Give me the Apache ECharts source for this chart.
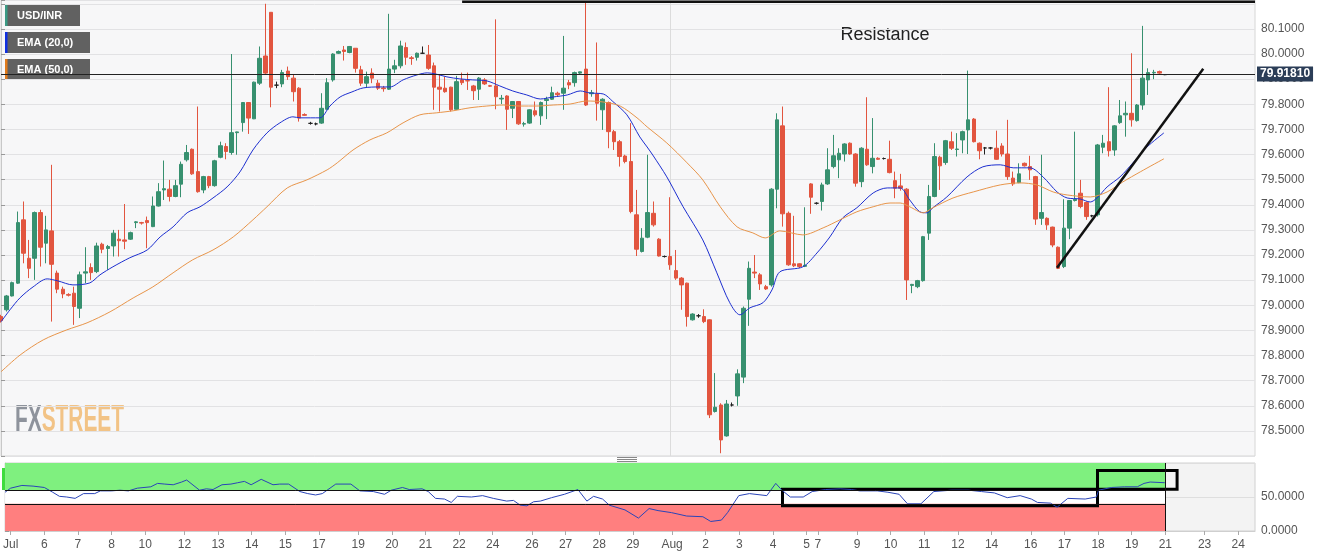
<!DOCTYPE html>
<html><head><meta charset="utf-8">
<script src="https://cdn.jsdelivr.net/npm/echarts@6/dist/echarts.min.js"></script>
<style>html,body{margin:0;padding:0;background:#fff}#c{width:1331px;height:558px}</style>
</head><body><div id="c"></div>
<script>
// ---- data (4h candles, USD/INR) ----
const opens=[78.955,78.982,79.037,79.088,79.340,79.187,79.187,79.369,79.247,79.296,79.128,79.064,79.043,79.048,78.988,79.128,79.150,79.134,79.243,79.226,79.236,79.263,79.260,79.263,79.329,79.329,79.337,79.313,79.395,79.459,79.462,79.433,79.482,79.579,79.621,79.532,79.459,79.512,79.476,79.589,79.632,79.608,79.687,79.727,79.807,79.742,79.884,79.992,80.166,79.876,79.881,79.932,79.904,79.864,79.759,79.724,79.722,79.725,79.780,79.897,80.003,80.016,80.006,80.023,79.937,79.884,79.924,79.884,79.865,79.860,79.940,79.953,80.026,79.985,79.987,80.003,79.996,79.953,79.868,79.864,79.868,79.780,79.897,79.894,79.873,79.860,79.897,79.874,79.873,79.821,79.833,79.784,79.811,79.721,79.725,79.774,79.754,79.815,79.820,79.844,79.844,79.886,79.886,79.924,79.940,79.842,79.841,79.778,79.807,79.691,79.651,79.594,79.572,79.360,79.214,79.271,79.366,79.263,79.194,79.194,79.138,79.108,79.088,78.942,78.958,78.955,78.942,78.577,78.603,78.480,78.603,78.639,78.714,79.024,79.132,79.121,79.074,79.081,79.462,79.714,79.366,79.165,79.165,79.155,79.483,79.406,79.413,79.483,79.552,79.579,79.602,79.645,79.602,79.492,79.621,79.552,79.585,79.584,79.581,79.496,79.475,79.462,79.079,79.074,79.098,79.287,79.433,79.589,79.568,79.651,79.620,79.658,79.698,79.741,79.645,79.626,79.626,79.625,79.634,79.602,79.506,79.488,79.565,79.552,79.512,79.346,79.346,79.311,79.231,79.154,79.307,79.417,79.446,79.409,79.356,79.360,79.629,79.651,79.618,79.727,79.758,79.764,79.735,79.797,79.897,79.925,79.930,79.918];
const closes=[78.939,79.037,79.090,79.329,79.207,79.147,79.369,79.231,79.300,79.163,79.064,79.045,79.040,78.995,79.121,79.133,79.130,79.236,79.223,79.234,79.287,79.257,79.255,79.289,79.332,79.327,79.329,79.395,79.452,79.464,79.433,79.476,79.561,79.608,79.523,79.452,79.512,79.476,79.575,79.635,79.612,79.687,79.690,79.807,79.745,79.888,79.983,79.924,79.868,79.876,79.926,79.910,79.850,79.745,79.756,79.724,79.722,79.784,79.886,80.000,80.010,80.010,80.030,79.943,79.884,79.910,79.904,79.864,79.862,79.940,79.953,80.032,79.987,79.982,80.003,80.003,79.943,79.868,79.860,79.850,79.778,79.890,79.886,79.893,79.854,79.904,79.881,79.872,79.830,79.824,79.780,79.811,79.722,79.723,79.778,79.758,79.807,79.820,79.846,79.838,79.864,79.877,79.926,79.929,79.797,79.846,79.804,79.820,79.691,79.651,79.592,79.572,79.373,79.223,79.267,79.369,79.320,79.196,79.194,79.161,79.108,79.081,78.955,78.965,78.958,78.935,78.564,78.594,78.464,78.607,78.603,78.727,78.988,79.147,79.128,79.085,79.065,79.462,79.738,79.364,79.161,79.157,79.154,79.159,79.430,79.406,79.479,79.539,79.595,79.605,79.642,79.602,79.486,79.625,79.559,79.585,79.581,79.584,79.528,79.466,79.466,79.101,79.083,79.098,79.273,79.433,79.592,79.555,79.655,79.625,79.622,79.691,79.738,79.651,79.615,79.626,79.626,79.581,79.602,79.512,79.483,79.523,79.555,79.539,79.343,79.369,79.320,79.240,79.147,79.307,79.417,79.422,79.393,79.353,79.356,79.638,79.645,79.615,79.714,79.754,79.764,79.738,79.797,79.904,79.926,79.927,79.924,79.918];
const lows=[78.931,78.975,79.035,79.085,79.167,79.108,79.101,79.154,79.167,78.935,79.048,79.028,79.035,78.922,78.949,79.088,79.101,79.128,79.207,79.141,79.194,79.194,79.223,79.260,79.307,79.321,79.227,79.311,79.393,79.419,79.413,79.430,79.430,79.572,79.519,79.448,79.446,79.466,79.472,79.585,79.581,79.599,79.599,79.691,79.682,79.741,79.877,79.917,79.788,79.864,79.868,79.897,79.811,79.731,79.754,79.719,79.716,79.722,79.778,79.890,80.000,79.974,80.003,79.926,79.873,79.868,79.884,79.857,79.850,79.857,79.924,79.943,79.957,79.957,79.974,80.000,79.937,79.778,79.771,79.846,79.771,79.778,79.877,79.857,79.817,79.817,79.877,79.869,79.780,79.801,79.698,79.745,79.718,79.711,79.722,79.751,79.718,79.741,79.817,79.830,79.778,79.860,79.870,79.917,79.793,79.830,79.735,79.698,79.625,79.618,79.552,79.565,79.366,79.196,79.210,79.267,79.313,79.194,79.190,79.141,79.101,78.982,78.915,78.939,78.950,78.929,78.551,78.573,78.411,78.477,78.597,78.600,78.690,78.918,79.108,79.061,79.061,79.074,79.386,79.313,79.157,79.152,79.148,79.152,79.364,79.401,79.377,79.479,79.545,79.506,79.572,79.599,79.472,79.470,79.555,79.525,79.579,79.580,79.525,79.426,79.456,79.021,79.048,79.068,79.094,79.260,79.430,79.459,79.559,79.618,79.592,79.605,79.602,79.648,79.581,79.600,79.620,79.579,79.592,79.499,79.475,79.486,79.552,79.499,79.320,79.320,79.300,79.231,79.144,79.148,79.263,79.413,79.386,79.340,79.350,79.353,79.605,79.592,79.595,79.722,79.671,79.711,79.731,79.778,79.837,79.900,79.921,79.916];
const highs=[78.962,79.041,79.094,79.373,79.413,79.260,79.373,79.380,79.356,79.559,79.138,79.074,79.048,79.074,79.134,79.231,79.167,79.249,79.249,79.240,79.300,79.300,79.403,79.293,79.335,79.332,79.353,79.433,79.486,79.576,79.499,79.499,79.572,79.638,79.624,79.791,79.515,79.515,79.579,79.651,79.645,80.000,79.691,79.809,79.809,79.890,80.030,80.200,80.166,79.890,79.937,79.950,79.917,79.868,79.764,79.730,79.727,79.844,79.904,80.003,80.014,80.032,80.032,80.023,79.953,79.930,79.943,79.897,79.873,80.160,79.977,80.053,80.046,79.992,80.006,80.030,80.036,79.966,79.917,79.910,79.870,79.913,79.926,79.926,79.877,79.908,79.904,79.877,80.138,79.837,79.836,79.813,79.813,79.730,79.780,79.811,79.811,79.830,79.870,79.850,80.072,79.897,79.930,79.930,80.210,79.857,80.046,79.824,79.811,79.698,79.658,79.599,79.725,79.459,79.307,79.599,79.413,79.267,79.198,79.430,79.220,79.112,79.090,78.968,78.965,78.984,78.944,78.730,78.610,78.623,78.613,78.745,78.995,79.174,79.200,79.128,79.081,79.466,79.764,79.791,79.373,79.356,79.167,79.390,79.486,79.410,79.488,79.625,79.678,79.625,79.645,79.648,79.605,79.629,79.828,79.745,79.589,79.588,79.655,79.532,79.523,79.466,79.085,79.101,79.276,79.479,79.645,79.595,79.658,79.691,79.685,79.695,79.934,79.745,79.648,79.630,79.630,79.695,79.645,79.738,79.532,79.565,79.568,79.595,79.515,79.599,79.350,79.313,79.234,79.422,79.419,79.691,79.499,79.413,79.360,79.642,79.678,79.868,79.717,79.817,79.811,80.003,79.801,80.112,79.943,79.937,79.934,79.920];

// EMA lines: [candle index, value]
const ema20=[[0,78.934],[1.6,78.982],[3.4,79.030],[5.7,79.073],[8.2,79.105],[10.1,79.097],[12.8,79.081],[15.8,79.089],[17.6,79.121],[19.9,79.153],[22.9,79.189],[26,79.220],[28.3,79.272],[30.6,79.312],[33.1,79.368],[35.4,79.392],[37.7,79.427],[40.2,79.471],[42.5,79.531],[44.8,79.618],[47.3,79.686],[49.6,79.726],[51.9,79.750],[53.2,79.746],[56.7,79.746],[58.5,79.793],[60.3,79.829],[62.4,79.849],[64.4,79.865],[67.4,79.869],[69.2,79.869],[71.5,79.897],[74,79.917],[75.8,79.925],[77.2,79.921],[79.3,79.909],[81.6,79.901],[83.9,79.897],[86.4,79.893],[88.7,79.873],[91,79.853],[93.5,79.837],[95.9,79.821],[98.2,79.829],[100.7,79.837],[103,79.853],[104.7,79.845],[107.1,79.841],[108.8,79.811],[111.3,79.758],[113.6,79.670],[114.9,79.630],[115.9,79.598],[118.4,79.511],[121.3,79.392],[124.8,79.260],[127.3,79.129],[129.6,79.010],[131.4,78.962],[133.2,78.990],[135.5,79.010],[137.1,79.061],[138.5,79.133],[142.6,79.153],[145.1,79.208],[147.4,79.272],[149.7,79.348],[152.2,79.388],[155.1,79.447],[157.6,79.467],[159.9,79.467],[161.6,79.419],[163.4,79.372],[164.7,79.368],[165.7,79.388],[168.2,79.431],[171.8,79.511],[174.6,79.551],[177.7,79.559],[180,79.547],[183,79.547],[185.3,79.511],[187.8,79.451],[189.6,79.427],[191.9,79.423],[193.7,79.411],[194.9,79.427],[196.7,79.471],[199,79.511],[201.3,79.567],[203.8,79.630],[206.8,79.686]];
const ema50=[[0,78.735],[3.4,78.802],[7.5,78.862],[11.7,78.902],[15.3,78.930],[19.4,78.974],[23.5,79.029],[27,79.073],[30.6,79.129],[34.1,79.181],[37.7,79.220],[41.3,79.272],[44.8,79.340],[47.3,79.392],[50.9,79.467],[54.4,79.499],[58,79.539],[59.8,79.567],[62.6,79.618],[65.6,79.658],[68.6,79.686],[71.5,79.726],[74.5,79.758],[77.5,79.766],[80.4,79.774],[83.4,79.786],[86.4,79.793],[89.3,79.797],[92.3,79.793],[95.3,79.793],[98.2,79.797],[101.2,79.801],[104.2,79.813],[107.1,79.809],[110.1,79.793],[113.1,79.746],[114.9,79.710],[118.4,79.646],[122,79.567],[124.8,79.499],[127.9,79.392],[130.9,79.312],[133.7,79.288],[135.9,79.268],[138.5,79.296],[142.6,79.280],[146.2,79.308],[149.2,79.340],[152.2,79.372],[155.1,79.392],[158.1,79.407],[159.9,79.407],[161.6,79.392],[164,79.368],[165.7,79.388],[169.3,79.427],[172.9,79.451],[177.7,79.479],[181.2,79.487],[184.2,79.479],[187.1,79.451],[189.6,79.439],[193.7,79.431],[196.7,79.451],[199.5,79.491],[202.6,79.531],[206.8,79.583]];
// RSI(14): [candle index, value]
const rsiPoints=[[0,57],[1,63],[3,67],[5,66],[7,64],[8.5,57],[9.7,51],[11,50],[12.5,48],[14,55],[16,55],[17,59],[19,59],[20.5,60],[22,59],[23.6,63],[26,65],[27.2,70],[28.5,69],[30,68],[31.5,72],[32.4,75],[34.7,60],[35.9,62],[37.1,61],[38.7,68],[40.3,69],[41.5,71],[42.7,73],[43.9,68],[45.7,76],[47.8,68],[49,69],[50.6,69],[52.6,58],[54,55],[55.4,53],[56.6,55],[59,69],[61.7,69],[63.3,59],[65.7,58],[67.7,54],[68.9,60],[70.9,64],[72.1,61],[74.4,62],[75.5,58],[76.8,48],[78.4,47],[79.6,42],[80.7,51],[83.2,50],[85.2,52],[87.1,48],[89.5,44],[90.7,45],[91.9,38],[93.1,37],[94.3,43],[95.5,44],[97.5,49],[99.8,54],[102.2,61],[103.8,44],[105,51],[106.6,47],[107.8,38],[110.6,31],[113,19],[114.9,33],[116.5,30],[118.9,27],[121.6,22],[124.5,21],[125.9,14],[127.8,16],[128.9,27],[130.9,52],[132.8,55],[135.9,52],[137.5,70],[138.6,60],[140.1,50],[142.4,50],[144,58],[146.4,61],[149,62],[151,61],[152.5,59],[155.6,59],[157.5,57],[159.5,54],[161,40],[163.4,40],[165.7,58],[168.8,60],[171.9,60],[174.2,58],[176.5,56],[178.8,49],[181.1,52],[183.1,47],[184.2,42],[186.5,41],[187.7,35],[189.6,48],[192.7,47],[194.7,50],[195.1,60],[197.4,64],[199.7,65],[202,65],[203.2,70],[204.3,72],[206.9,71]];

// date tick labels at candle indices
const tickIdx=[1,7,13,19,25,32,38,44,50,56,63,69,75,81,87,94,100,106,112,119,125,131,137,143,145,152,158,164,170,176,183,189,195,201,207,214,220];
const tickText=['Jul','6','7','8','10','12','13','14','15','17','19','20','21','22','24','26','27','28','29','Aug','2','3','4','5','7','9','10','11','12','14','16','17','18','19','21','23','24'];
const monthStartIdx=119;
const lastIdx=207;
const slotCount=224;
const lastPrice=79.9181;
const resistanceLine=[[82,80.208],[223,80.208]];
const trendLine=[[187.8,79.149],[213.8,79.941]];
const rsiLevels=[60,40];
const rsiBox1=[[138.7,37],[194.9,61.5]];
const rsiBox2=[[194.9,61.5],[209.1,89]];

const cats=Array.from({length:slotCount},(_,i)=>{const j=tickIdx.indexOf(i);return j>=0?tickText[j]:'';});
const candles=opens.map((o,i)=>[o,closes[i],lows[i],highs[i]]);
const isTick=(i,v)=>v!=='';
const FONT='Liberation Sans, Arial, sans-serif';

const chart=echarts.init(document.getElementById('c'),null,{renderer:'canvas'});
function legendBox(y,w,stripe,label){
  return {type:'group',children:[
    {type:'rect',shape:{x:5,y:y,width:w,height:21},style:{fill:'#616161'}},
    {type:'rect',shape:{x:5,y:y,width:2.5,height:21},style:{fill:stripe}},
    {type:'text',x:17,y:y+10.5,style:{text:label,fill:'#fff',font:'bold 11px '+FONT,verticalAlign:'middle'}}
  ]};
}
const option={
  animation:false,
  backgroundColor:'#ffffff',
  textStyle:{fontFamily:FONT},
  grid:[
    {left:1,right:76,top:0,height:456,show:true,backgroundColor:'#f7f7f8',borderColor:'#d6d6d6',borderWidth:1},
    {left:1,right:76,top:463,height:68,show:true,backgroundColor:'#f3f3f3',borderColor:'#d0d0d0',borderWidth:1}
  ],
  xAxis:[
    {type:'category',gridIndex:0,data:cats,boundaryGap:false,axisLine:{show:false},axisTick:{show:false},axisLabel:{show:false},
     splitLine:{show:true,interval:(i)=>i===monthStartIdx,lineStyle:{color:'#dcdcdc',width:1}}},
    {type:'value',gridIndex:0,min:0,max:slotCount-1,show:false},
    {type:'category',gridIndex:1,data:cats,boundaryGap:false,axisLine:{show:true,lineStyle:{color:'#cfcfcf'}},
     axisTick:{show:true,interval:isTick,length:4,lineStyle:{color:'#aaa'}},
     axisLabel:{interval:isTick,color:'#555',fontSize:12,margin:8,fontFamily:FONT},splitLine:{show:false}},
    {type:'value',gridIndex:1,min:0,max:slotCount-1,show:false}
  ],
  yAxis:[
    {type:'value',gridIndex:0,position:'right',min:78.4,max:80.215,interval:0.1,
     axisLine:{show:true,lineStyle:{color:'#c8c8c8'}},axisTick:{show:true,length:4,lineStyle:{color:'#999'}},
     axisLabel:{color:'#555',fontSize:12,margin:6,fontFamily:FONT,formatter:v=>(v<78.45||v>80.15)?'':v.toFixed(4)},
     splitLine:{show:true,lineStyle:{color:'#e2e2e4'}}},
    {type:'value',gridIndex:1,position:'right',min:0,max:100,interval:50,
     axisLine:{show:true,lineStyle:{color:'#c8c8c8'}},axisTick:{show:true,length:4,lineStyle:{color:'#999'}},
     axisLabel:{color:'#555',fontSize:12,margin:6,fontFamily:FONT,formatter:v=>v>99?'':v.toFixed(4)},
     splitLine:{show:true,lineStyle:{color:'#dedede'}}}
  ],
  series:[
    {type:'candlestick',name:'USD/INR',xAxisIndex:0,yAxisIndex:0,data:candles,barWidth:4,z:3,
     itemStyle:{color:'#37906f',color0:'#e2553f',borderColor:'#37906f',borderColor0:'#e2553f',borderColorDoji:'#222',borderWidth:1},
     markLine:{silent:true,symbol:'none',animation:false,
       data:[{yAxis:lastPrice}],
       lineStyle:{color:'#222',width:1,type:'solid'},
       label:{show:true,position:'end',distance:2,formatter:'79.91810',color:'#fff',fontWeight:'bold',fontSize:12,fontFamily:FONT,
         backgroundColor:'#2b3d57',padding:[2,3,1,3]}}},
    {type:'line',name:'EMA (20,0)',xAxisIndex:1,yAxisIndex:0,data:ema20,symbol:'none',smooth:0.3,z:4,
     lineStyle:{color:'#1d2fd0',width:1}},
    {type:'line',name:'EMA (50,0)',xAxisIndex:1,yAxisIndex:0,data:ema50,symbol:'none',smooth:0.3,z:4,
     lineStyle:{color:'#e8954a',width:1}},
    {type:'line',name:'resistance',xAxisIndex:1,yAxisIndex:0,data:resistanceLine,symbol:'none',z:5,
     lineStyle:{color:'#111',width:2.5}},
    {type:'line',name:'trend',xAxisIndex:1,yAxisIndex:0,data:trendLine,symbol:'none',z:5,
     lineStyle:{color:'#111',width:2.5}},
    // RSI panel: zones
    {type:'line',name:'zones',xAxisIndex:3,yAxisIndex:1,data:[],z:1,silent:true,
     markArea:{silent:true,data:[
       [{coord:[0,rsiLevels[0]],itemStyle:{color:'#7ff07f'}},{coord:[lastIdx,100]}],
       [{coord:[0,rsiLevels[1]],itemStyle:{color:'#ffffff'}},{coord:[lastIdx,rsiLevels[0]]}],
       [{coord:[0,0],itemStyle:{color:'#ff7f7f'}},{coord:[lastIdx,rsiLevels[1]]}]
     ]},
     markLine:{silent:true,symbol:'none',lineStyle:{color:'#111',width:1,type:'solid'},label:{show:false},data:[
       [{coord:[0,rsiLevels[0]]},{coord:[lastIdx,rsiLevels[0]]}],
       [{coord:[0,rsiLevels[1]]},{coord:[lastIdx,rsiLevels[1]]}],
       [{coord:[lastIdx,0]},{coord:[lastIdx,100]}]
     ]}},
    {type:'line',name:'RSI',xAxisIndex:3,yAxisIndex:1,data:rsiPoints,symbol:'none',z:3,
     lineStyle:{color:'#2a44b8',width:1}},
    {type:'line',name:'boxes',xAxisIndex:3,yAxisIndex:1,data:[],z:4,silent:true,
     markArea:{silent:true,itemStyle:{color:'rgba(0,0,0,0)',borderColor:'#000',borderWidth:3},data:[
       [{coord:rsiBox1[0]},{coord:rsiBox1[1]}],
       [{coord:rsiBox2[0]},{coord:rsiBox2[1]}]
     ]}}
  ],
  graphic:[
    legendBox(5,75,'#3a9a84','USD/INR'),
    legendBox(32,85,'#1030e0','EMA (20,0)'),
    legendBox(59,85,'#e07b1c','EMA (50,0)'),
    {type:'group',children:[
      {type:'rect',shape:{x:2,y:468,width:4,height:22},style:{fill:'#3ddc3d'}},
      {type:'rect',shape:{x:8,y:468,width:108,height:22},style:{fill:'#32603a'}},
      {type:'text',x:17,y:479,style:{text:'RSI (14,60,40,1)',fill:'#fff',font:'bold 11px '+FONT,verticalAlign:'middle'}}
    ]},
    {type:'text',x:885,y:35,style:{text:'Resistance',fill:'#222',font:'18px '+FONT,align:'center',verticalAlign:'middle'}},
    {type:'text',x:15,y:421,scaleX:0.58,style:{text:'{a|FX}{b|STREET}',font:'bold 36px '+FONT,verticalAlign:'middle',
      rich:{a:{fill:'#8e939c',font:'bold 36px '+FONT},b:{fill:'#f2c386',font:'bold 36px '+FONT}}}},
    {type:'group',children:[
      {type:'rect',shape:{x:617,y:457,width:20,height:1},style:{fill:'#888'}},
      {type:'rect',shape:{x:617,y:459,width:20,height:1},style:{fill:'#888'}},
      {type:'rect',shape:{x:617,y:461,width:20,height:1},style:{fill:'#888'}}
    ]}
  ]
};
chart.setOption(option);
</script></body></html>
